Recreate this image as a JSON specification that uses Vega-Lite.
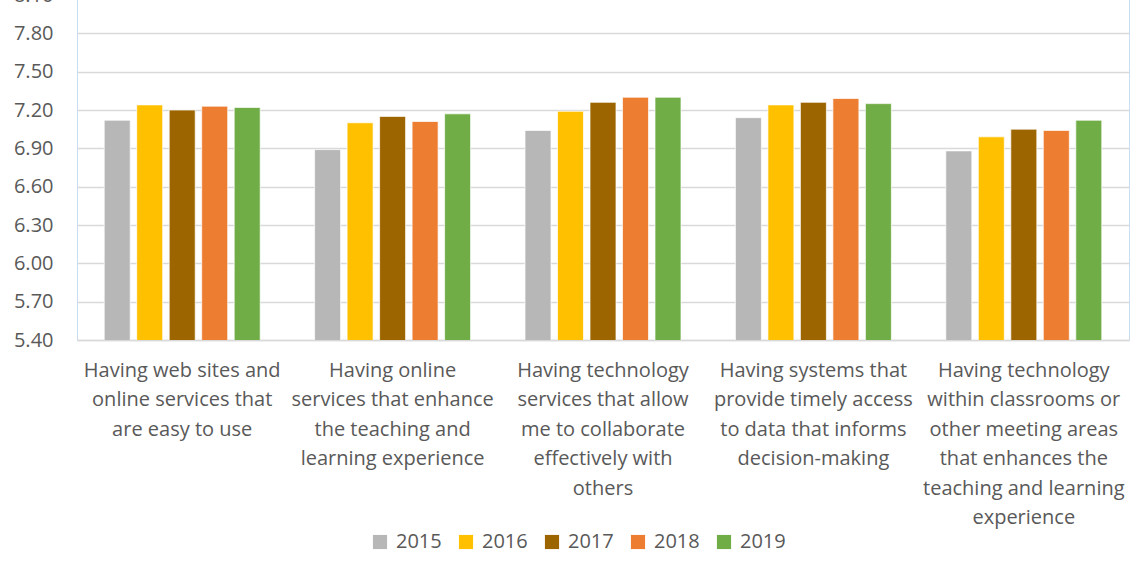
{
  "$schema": "https://vega.github.io/schema/vega-lite/v6.json",
  "width": 1052,
  "height": 345,
  "autosize": {"type": "none"},
  "padding": {"left": 77, "top": -5, "right": 4, "bottom": 235},
  "background": "white",
  "config": {
    "font": "Open Sans",
    "view": {"stroke": "#c9ddf0", "strokeWidth": 1},
    "axis": {"labelFont": "Open Sans", "labelColor": "#595959", "labelFontSize": 20}
  },
  "data": {
    "values": [
      {"item": "Having web sites and\nonline services that\nare easy to use", "year": "2015", "score": 7.12},
      {"item": "Having web sites and\nonline services that\nare easy to use", "year": "2016", "score": 7.24},
      {"item": "Having web sites and\nonline services that\nare easy to use", "year": "2017", "score": 7.20},
      {"item": "Having web sites and\nonline services that\nare easy to use", "year": "2018", "score": 7.23},
      {"item": "Having web sites and\nonline services that\nare easy to use", "year": "2019", "score": 7.22},
      {"item": "Having online\nservices that enhance\nthe teaching and\nlearning experience", "year": "2015", "score": 6.89},
      {"item": "Having online\nservices that enhance\nthe teaching and\nlearning experience", "year": "2016", "score": 7.10},
      {"item": "Having online\nservices that enhance\nthe teaching and\nlearning experience", "year": "2017", "score": 7.15},
      {"item": "Having online\nservices that enhance\nthe teaching and\nlearning experience", "year": "2018", "score": 7.11},
      {"item": "Having online\nservices that enhance\nthe teaching and\nlearning experience", "year": "2019", "score": 7.17},
      {"item": "Having technology\nservices that allow\nme to collaborate\neffectively with\nothers", "year": "2015", "score": 7.04},
      {"item": "Having technology\nservices that allow\nme to collaborate\neffectively with\nothers", "year": "2016", "score": 7.19},
      {"item": "Having technology\nservices that allow\nme to collaborate\neffectively with\nothers", "year": "2017", "score": 7.26},
      {"item": "Having technology\nservices that allow\nme to collaborate\neffectively with\nothers", "year": "2018", "score": 7.30},
      {"item": "Having technology\nservices that allow\nme to collaborate\neffectively with\nothers", "year": "2019", "score": 7.30},
      {"item": "Having systems that\nprovide timely access\nto data that informs\ndecision-making", "year": "2015", "score": 7.14},
      {"item": "Having systems that\nprovide timely access\nto data that informs\ndecision-making", "year": "2016", "score": 7.24},
      {"item": "Having systems that\nprovide timely access\nto data that informs\ndecision-making", "year": "2017", "score": 7.26},
      {"item": "Having systems that\nprovide timely access\nto data that informs\ndecision-making", "year": "2018", "score": 7.29},
      {"item": "Having systems that\nprovide timely access\nto data that informs\ndecision-making", "year": "2019", "score": 7.25},
      {"item": "Having technology\nwithin classrooms or\nother meeting areas\nthat enhances the\nteaching and learning\nexperience", "year": "2015", "score": 6.88},
      {"item": "Having technology\nwithin classrooms or\nother meeting areas\nthat enhances the\nteaching and learning\nexperience", "year": "2016", "score": 6.99},
      {"item": "Having technology\nwithin classrooms or\nother meeting areas\nthat enhances the\nteaching and learning\nexperience", "year": "2017", "score": 7.05},
      {"item": "Having technology\nwithin classrooms or\nother meeting areas\nthat enhances the\nteaching and learning\nexperience", "year": "2018", "score": 7.04},
      {"item": "Having technology\nwithin classrooms or\nother meeting areas\nthat enhances the\nteaching and learning\nexperience", "year": "2019", "score": 7.12}
    ]
  },
  "mark": {"type": "bar", "clip": true, "stroke": "white", "strokeWidth": 1, "strokeOpacity": 0.7},
  "encoding": {
    "x": {
      "field": "item",
      "type": "nominal",
      "sort": null,
      "title": null,
      "scale": {"paddingInner": 0.2586, "paddingOuter": 0.1293},
      "axis": {
        "labelAngle": 0,
        "labelExpr": "split(datum.label, '\\n')",
        "labelLineHeight": 29.5,
        "labelPadding": 20,
        "labelBaseline": "top",
        "labelLimit": 0,
        "ticks": false,
        "domainColor": "#d9d9d9",
        "domainWidth": 1.5
      }
    },
    "xOffset": {
      "field": "year",
      "type": "nominal",
      "scale": {"paddingInner": 0.2, "paddingOuter": 0}
    },
    "y": {
      "field": "score",
      "type": "quantitative",
      "title": null,
      "scale": {"domain": [5.4, 8.1], "zero": false, "nice": false},
      "axis": {
        "values": [5.4, 5.7, 6.0, 6.3, 6.6, 6.9, 7.2, 7.5, 7.8, 8.1],
        "format": ".2f",
        "ticks": false,
        "domain": false,
        "labelPadding": 24,
        "gridColor": "#d9d9d9",
        "gridWidth": 1.5
      }
    },
    "color": {
      "field": "year",
      "type": "nominal",
      "scale": {
        "domain": ["2015", "2016", "2017", "2018", "2019"],
        "range": ["#b7b7b7", "#ffc000", "#9c6500", "#ed7d31", "#70ad47"]
      },
      "legend": {
        "title": null,
        "orient": "none",
        "direction": "horizontal",
        "legendX": 293,
        "legendY": 537,
        "symbolType": "square",
        "symbolSize": 200,
        "symbolStrokeWidth": 0,
        "labelFont": "Open Sans",
        "labelFontSize": 20,
        "labelColor": "#595959",
        "columnPadding": 14,
        "labelOffset": 6
      }
    }
  }
}
